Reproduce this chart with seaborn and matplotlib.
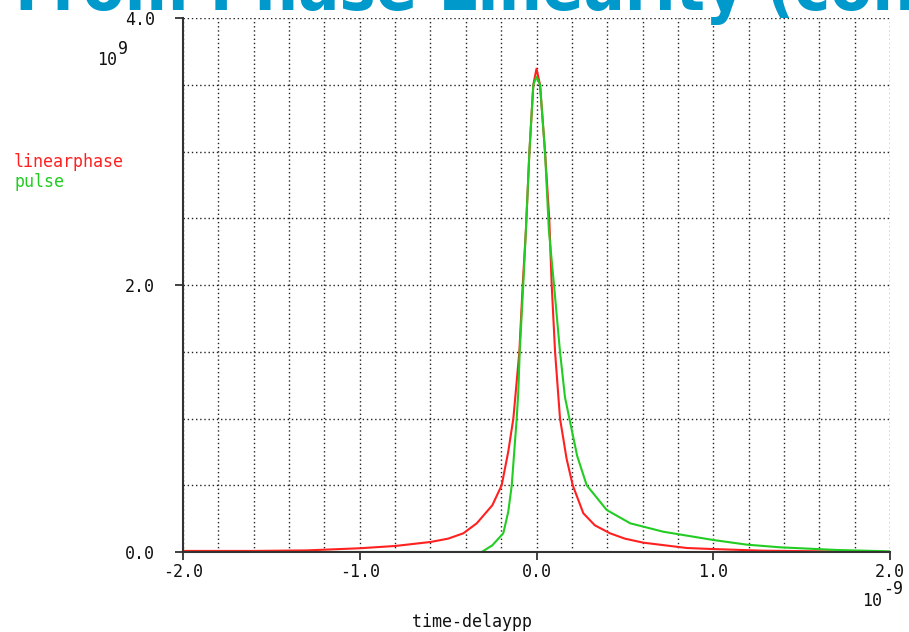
import numpy as np
import pandas as pd
import matplotlib
matplotlib.use("Agg")
import matplotlib.pyplot as plt
import seaborn as sns
from matplotlib.ticker import FixedLocator, FormatStrFormatter

# ---- data (x in 1e-9 s, y in 1e9) ----
lin_t = [-2.0, -1.6, -1.3, -1.0, -0.8, -0.6, -0.5, -0.414, -0.338, -0.25, -0.197,
         -0.16, -0.131, -0.12, -0.097, -0.078, -0.06, -0.04, -0.018, 0.0,
         0.02, 0.048, 0.072, 0.086, 0.105, 0.124, 0.133, 0.17, 0.205, 0.265,
         0.33, 0.416, 0.5, 0.604, 0.85, 1.0, 1.28, 1.68]
lin_v = [0.008, 0.008, 0.012, 0.028, 0.045, 0.075, 0.10, 0.14, 0.215, 0.35, 0.5,
         0.75, 1.0, 1.16, 1.5, 2.0, 2.41, 3.0, 3.5, 3.62,
         3.5, 3.0, 2.5, 2.0, 1.5, 1.16, 1.0, 0.7, 0.5, 0.29,
         0.2, 0.14, 0.1, 0.07, 0.03, 0.022, 0.01, 0.004]

pulse_t = [-2.0, -0.31, -0.25, -0.188, -0.16, -0.14, -0.112, -0.103, -0.095, -0.075,
           -0.06, -0.04, -0.018, 0.0, 0.02, 0.048, 0.07, 0.099, 0.133, 0.161,
           0.186, 0.23, 0.284, 0.397, 0.53, 0.717, 1.0, 1.19, 1.38, 1.7, 2.0]
pulse_v = [0.0, 0.0, 0.05, 0.14, 0.3, 0.5, 1.0, 1.2, 1.5, 2.0,
           2.41, 3.0, 3.5, 3.56, 3.5, 3.0, 2.41, 2.0, 1.5, 1.16,
           1.0, 0.72, 0.5, 0.315, 0.215, 0.152, 0.09, 0.055, 0.035, 0.015, 0.005]

series_names = ["linearphase", "pulse"]
series_colors = ["#ff2020", "#22cc22"]
x_ticks = [-2.0, -1.0, 0.0, 1.0, 2.0]
y_ticks = [0.0, 2.0, 4.0]
title_text = "From Phase Linearity (con"
x_label = "time-delaypp"

df = pd.concat([
    pd.DataFrame({"t": lin_t, "v": lin_v, "series": series_names[0]}),
    pd.DataFrame({"t": pulse_t, "v": pulse_v, "series": series_names[1]}),
], ignore_index=True)

sns.set_theme(style="white")
plt.rcParams["axes.unicode_minus"] = False
mono = ["DejaVu Sans Mono"]
fs = 12

fig = plt.figure(figsize=(9.09, 6.32), dpi=100)
ax = fig.add_axes([183/909, 1-552/632, (890-183)/909, (552-18)/632])

sns.lineplot(data=df, x="t", y="v", hue="series", palette=dict(zip(series_names, series_colors)),
             estimator=None, sort=False, linewidth=1.5, legend=False, ax=ax)

ax.set_xlim(-2.0, 2.0)
ax.set_ylim(0.0, 4.0)
ax.xaxis.set_major_locator(FixedLocator(x_ticks))
ax.yaxis.set_major_locator(FixedLocator(y_ticks))
ax.xaxis.set_minor_locator(FixedLocator(np.arange(-2.0, 2.01, 0.2)))
ax.yaxis.set_minor_locator(FixedLocator(np.arange(0.0, 4.01, 0.5)))
ax.xaxis.set_major_formatter(FormatStrFormatter("%.1f"))
ax.yaxis.set_major_formatter(FormatStrFormatter("%.1f"))
ax.grid(True, which="both", color="#222222", linestyle=(0, (1, 2)), linewidth=1.0)
ax.set_axisbelow(True)

for s in ["top", "right"]:
    ax.spines[s].set_visible(False)
for s in ["left", "bottom"]:
    ax.spines[s].set_color("#333333")
    ax.spines[s].set_linewidth(1.5)

ax.tick_params(which="major", direction="out", length=6, width=1.3, color="#333333",
               bottom=True, left=True, labelsize=fs, labelcolor="#111111")
ax.tick_params(which="minor", length=0)
ax.tick_params(axis="y", pad=14)
ax.tick_params(axis="x", pad=2)
for lab in ax.get_xticklabels() + ax.get_yticklabels():
    lab.set_family(mono)
ax.set_xlabel("")
ax.set_ylabel("")

# exponent labels
fig.text(97/909, 1-65/632, "10", family=mono, fontsize=fs, color="#111111", va="baseline")
fig.text(118/909, 1-54/632, "9", family=mono, fontsize=fs, color="#111111", va="baseline")
fig.text(862/909, 1-606/632, "10", family=mono, fontsize=fs, color="#111111", va="baseline")
fig.text(883/909, 1-594/632, "-9", family=mono, fontsize=fs, color="#111111", va="baseline")

fig.text(472/909, 1-627/632, x_label, family=mono, fontsize=fs, color="#111111",
         ha="center", va="baseline")

# legend as text
fig.text(14/909, 1-167/632, series_names[0], family=mono, fontsize=fs,
         color=series_colors[0], va="baseline")
fig.text(14/909, 1-187/632, series_names[1], family=mono, fontsize=fs,
         color=series_colors[1], va="baseline")

# title (cut off at the top)
fig.text(15/909, 1-10/632, title_text, family=["Liberation Sans Narrow", "DejaVu Sans"],
         fontstretch="condensed", fontweight="bold", fontsize=49, color="#0099cc",
         va="baseline", ha="left")

fig.savefig("out.png", dpi=100)
